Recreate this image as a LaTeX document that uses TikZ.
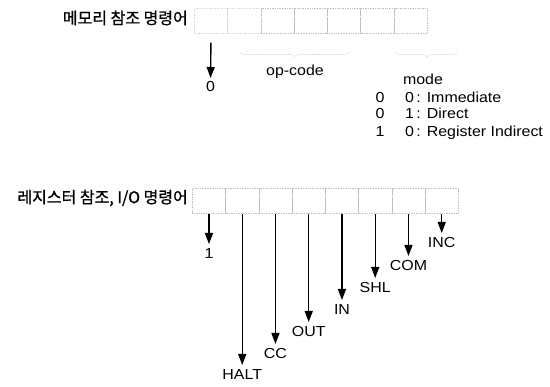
\documentclass[tikz,border=0pt]{standalone}
\usepackage{fontspec}
\setmainfont{Liberation Sans}[FakeStretch=1.1]
\newfontfamily\kr{Noto Sans CJK KR}[FakeBold=1]
\usetikzlibrary{arrows.meta,decorations.pathreplacing}
\tikzset{
  cell/.style={draw=gray!50, densely dotted, line width=0.7pt, minimum width=33.25pt, minimum height=25pt, inner sep=0pt, anchor=north west},
  faint/.style={draw=gray!30, densely dotted, line width=0.7pt, minimum width=33.25pt, minimum height=25pt, inner sep=0pt, anchor=north west},
  arr/.style={line width=1.4pt, -{Triangle[length=11pt,width=8pt]}},
  lbl/.style={font=\fontsize{14.5}{16}\selectfont, inner sep=0pt},
  krl/.style={font=\kr\fontsize{16}{18}\selectfont, inner sep=0pt, anchor=east},
  brc/.style={draw=gray!40, densely dotted, line width=0.7pt, decorate, decoration={brace,mirror,amplitude=5pt}}
}
\begin{document}
\begin{tikzpicture}[x=1pt,y=-1pt]
\useasboundingbox (0,0) rectangle (550,387);
% top row
\node[krl] (k1) at (188,18) {메모리 참조 명령어};
\node[faint] (a0) at (194,8) {};
\node[faint] (a1) at (227.25,8) {};
\node[cell] (a2) at (260.5,8) {};
\node[cell] (a3) at (293.75,8) {};
\node[cell] (a4) at (327,8) {};
\node[cell] (a5) at (360.25,8) {};
\node[cell] (a6) at (393.5,8) {};
\coordinate (t0) at (210.6,78);
\node[lbl, below=3pt] (z0) at (t0) {0};
\draw[arr, shorten <=9pt] (a0.south) -- (t0);
\draw[brc] (240,52) -- (350,52);
\draw[brc] (395,52) -- (458,52);
\node[lbl] (op) at (295,72) {op-code};
\node[lbl] (md) at (423,79) {mode};
\node[lbl, anchor=base west] (m1) at (405,103) {0\,: Immediate};
\node[lbl, anchor=base west] (m2) at (405,119) {1\,: Direct};
\node[lbl, anchor=base west] (m3) at (405,137) {0\,: Register Indirect};
\node[lbl, anchor=base] (n1) at (380,103) {0};
\node[lbl, anchor=base] (n2) at (380,119) {0};
\node[lbl, anchor=base] (n3) at (380,137) {1};
% bottom row
\node[krl] (k2) at (188,198) {레지스터 참조, I/O 명령어};
\foreach \i in {0,...,7} {
  \node[cell] (b\i) at ({192+33.25*\i},188) {};
}
\coordinate (u0) at (b0.south |- 0,244);
\coordinate (u1) at (b1.south |- 0,365);
\coordinate (u2) at (b2.south |- 0,344);
\coordinate (u3) at (b3.south |- 0,322);
\coordinate (u4) at (b4.south |- 0,300);
\coordinate (u5) at (b5.south |- 0,278);
\coordinate (u6) at (b6.south |- 0,256);
\coordinate (u7) at (b7.south |- 0,233);
\foreach \i in {0,...,7} { \draw[arr] (b\i.south) -- (u\i); }
\node[lbl, below=4pt] (v0) at (u0) {1};
\node[lbl, below=4pt] (v1) at (u1) {HALT};
\node[lbl, below=4pt] (v2) at (u2) {CC};
\node[lbl, below=4pt] (v3) at (u3) {OUT};
\node[lbl, below=4pt] (v4) at (u4) {IN};
\node[lbl, below=4pt] (v5) at (u5) {SHL};
\node[lbl, below=4pt] (v6) at (u6) {COM};
\node[lbl, below=4pt] (v7) at (u7) {INC};
\end{tikzpicture}
\end{document}
